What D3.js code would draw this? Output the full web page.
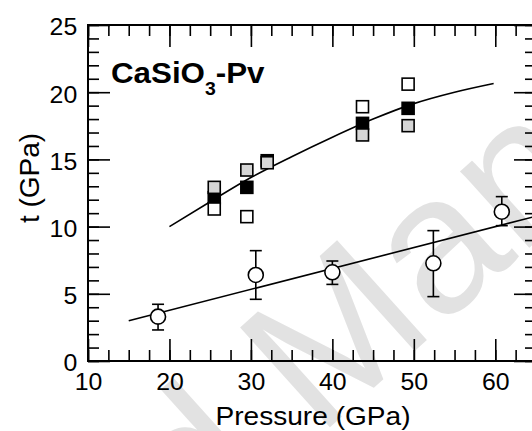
<!DOCTYPE html>
<html>
<head>
<meta charset="utf-8">
<script src="https://cdn.jsdelivr.net/npm/d3@7"></script>
<style>
  body { margin: 0; background: #fff; }
  svg { display: block; }
  text { font-family: "Liberation Sans", Arial, Helvetica, sans-serif; }
</style>
</head>
<body>
<svg id="chart" width="532" height="431"></svg>
<script>
// values
const fitCurve = [[20, 10.0], [25, 11.85], [30, 13.65], [35, 15.2], [40, 16.65], [45, 18.0], [50, 19.15], [55, 20.0], [59.8, 20.65]];
const fitLine = [[15, 3.0], [65, 10.77]];

const squareP = [25.5, 29.5, 32.0, 43.7, 49.3];
const blackT = [12.15, 12.92, 14.9, 17.68, 18.8];
const whiteT = [11.31, 10.74, null, 18.92, 20.6];
const grayT = [12.92, 14.21, 14.75, 16.82, 17.51];

const circP = [18.6, 30.6, 40.0, 52.4, 60.8];
const circT = [3.3, 6.4, 6.6, 7.27, 11.11];
const errLo = [2.31, 4.59, 5.7, 4.79, 10.07];
const errHi = [4.22, 8.21, 7.44, 9.7, 12.23];

const xTicks = [10, 20, 30, 40, 50, 60];
const yTicks = [0, 5, 10, 15, 20, 25];

const svg = d3.select('#chart');
const stretch = 1.08;

const x = d3.scaleLinear().domain([10, 65]).range([88, 536]);
const y = d3.scaleLinear().domain([0, 25]).range([361, 25]);

// watermark behind everything
const wm = svg.append('g')
  .attr('transform', 'translate(318,438) rotate(-42)')
  .attr('font-size', 195)
  .attr('fill', '#e2e2e2');
wm.append('text').attr('text-anchor', 'end').text('Accepted\u00a0');
wm.append('text').attr('text-anchor', 'start').text('Manuscript');

// fit lines
const line = d3.line().x(d => x(d[0])).y(d => y(d[1])).curve(d3.curveMonotoneX);
svg.append('path').datum(fitCurve).attr('d', line)
  .attr('fill', 'none').attr('stroke', '#000').attr('stroke-width', 1.6);
svg.append('path').datum(fitLine).attr('d', line)
  .attr('fill', 'none').attr('stroke', '#000').attr('stroke-width', 1.6);

// squares: black first, then white, then gray on top
const sq = 12;
function squares(vals, fill) {
  svg.append('g').selectAll('rect')
    .data(vals.map((t, i) => [squareP[i], t]).filter(d => d[1] !== null))
    .join('rect')
    .attr('x', d => x(d[0]) - sq / 2)
    .attr('y', d => y(d[1]) - sq / 2)
    .attr('width', sq).attr('height', sq)
    .attr('fill', fill).attr('stroke', '#000').attr('stroke-width', 1.6);
}
squares(blackT, '#000');
squares(whiteT, '#fff');
squares(grayT, '#d6d6d6');

// circles with error bars
const eb = svg.append('g').attr('stroke', '#000').attr('stroke-width', 1.6);
circP.forEach((p, i) => {
  const cx = x(p);
  eb.append('line').attr('x1', cx).attr('x2', cx).attr('y1', y(errLo[i])).attr('y2', y(errHi[i]));
  [errLo[i], errHi[i]].forEach(v => {
    eb.append('line').attr('x1', cx - 6).attr('x2', cx + 6).attr('y1', y(v)).attr('y2', y(v));
  });
});
eb.selectAll('circle')
  .data(circP.map((p, i) => [p, circT[i]]))
  .join('circle')
  .attr('cx', d => x(d[0])).attr('cy', d => y(d[1])).attr('r', 7.5)
  .attr('fill', '#fff');

// axes, ticks pointing inward
const xMinor = d3.range(10, 65.01, 2.5);
const yMinor = d3.range(0, 25.01, 1);

function styleAxis(g) {
  g.select('.domain').remove();
  g.selectAll('.tick line').attr('stroke', '#000').attr('stroke-width', 1.6);
}

svg.append('g').attr('transform', 'translate(0,361)')
  .call(d3.axisBottom(x).tickValues(xMinor).tickSize(-11).tickFormat(''))
  .call(styleAxis);
const gx = svg.append('g').attr('transform', 'translate(0,361)')
  .call(d3.axisBottom(x).tickValues(xTicks).tickSize(-22).tickPadding(13).tickFormat(d3.format('d')))
  .call(styleAxis);

svg.append('g').attr('transform', 'translate(0,25)')
  .call(d3.axisTop(x).tickValues(xMinor).tickSize(-11).tickFormat(''))
  .call(styleAxis);
svg.append('g').attr('transform', 'translate(0,25)')
  .call(d3.axisTop(x).tickValues(xTicks).tickSize(-22).tickFormat(''))
  .call(styleAxis);

svg.append('g').attr('transform', 'translate(88,0)')
  .call(d3.axisLeft(y).tickValues(yMinor).tickSize(-11).tickFormat(''))
  .call(styleAxis);
const gy = svg.append('g').attr('transform', 'translate(88,0)')
  .call(d3.axisLeft(y).tickValues(yTicks).tickSize(-22).tickPadding(10).tickFormat(d3.format('d')))
  .call(styleAxis);

svg.append('g').attr('transform', 'translate(536,0)')
  .call(d3.axisRight(y).tickValues(yMinor).tickSize(-11).tickFormat(''))
  .call(styleAxis);
svg.append('g').attr('transform', 'translate(536,0)')
  .call(d3.axisRight(y).tickValues(yTicks).tickSize(-22).tickFormat(''))
  .call(styleAxis);

gx.selectAll('.tick text')
  .attr('font-size', 23).attr('font-family', null).attr('fill', '#000')
  .attr('transform', `scale(${stretch},1)`);
gy.selectAll('.tick text')
  .attr('font-size', 23).attr('font-family', null).attr('fill', '#000')
  .attr('dy', '0.43em')
  .attr('transform', `scale(${stretch},1)`);

// frame
svg.append('rect')
  .attr('x', x(10)).attr('y', y(25))
  .attr('width', x(65) - x(10)).attr('height', y(0) - y(25))
  .attr('fill', 'none').attr('stroke', '#000').attr('stroke-width', 2);

// labels
svg.append('text')
  .attr('transform', `translate(313,425) scale(${stretch},1)`)
  .attr('text-anchor', 'middle').attr('font-size', 26)
  .text('Pressure (GPa)');

svg.append('text')
  .attr('transform', 'translate(39,178) rotate(-90)')
  .attr('text-anchor', 'middle').attr('font-size', 28)
  .text('t (GPa)');

const title = svg.append('text')
  .attr('transform', `translate(111,83) scale(${stretch},1)`)
  .attr('font-size', 29).attr('font-weight', 'bold');
title.append('tspan').text('CaSiO');
title.append('tspan').attr('font-size', 18).attr('dy', 12).text('3');
title.append('tspan').attr('dy', -12).text('-Pv');
</script>
</body>
</html>
